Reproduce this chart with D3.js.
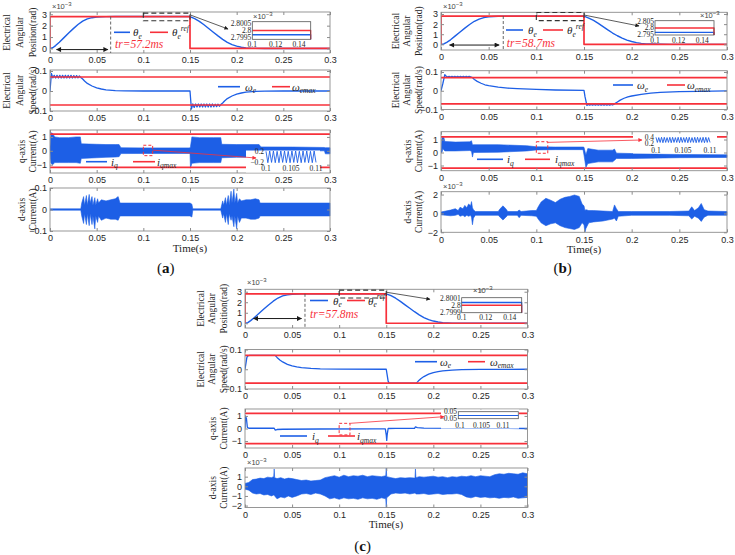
<!DOCTYPE html>
<html>
<head>
<meta charset="utf-8">
<script src="https://cdn.jsdelivr.net/npm/d3@7"></script>
<style>body { margin: 0; background: #fff; }</style>
</head>
<body>
<script>
// Tick values

const xTicks = [0, 0.05, 0.1, 0.15, 0.2, 0.25, 0.3];
const posTicks = [0, 1, 2, 3];
const speedTicks = [-0.1, 0, 0.1];
const iqTicks = [-1, 0, 1];
const idTicksA = [-0.1, 0, 0.1];
const idTicksB = [-2, 0, 2];
const idTicksC = [-2, -1, 0, 1];
const zoomPosTicksX = [0.1, 0.12, 0.14];
const zoomIqTicksX = [0.1, 0.105, 0.11];

// Reference and limits (position in 1e-3 rad)

const thetaRef = [[0, 0], [0, 2.8], [0.15, 2.8], [0.15, 0], [0.3, 0]];
const omegaMax = 0.07;
const iqMax = 1.2;
const riseTimes = ["57.2", "58.7", "57.8"];
const trMarks = [0.065, 0.0653, 0.0637];

// Electrical angular position [t, theta]

const posA = [[0,0],[0.003,0.06],[0.006,0.25],[0.01,0.55],[0.015,0.95],[0.02,1.35],[0.025,1.74],[0.03,2.1],[0.035,2.4],[0.04,2.6],[0.045,2.7],[0.05,2.76],[0.055,2.785],[0.06,2.795],[0.07,2.7997],[0.15,2.7997],[0.155,2.62],[0.16,2.38],[0.165,2.08],[0.17,1.75],[0.175,1.42],[0.18,1.1],[0.185,0.8],[0.19,0.54],[0.195,0.34],[0.2,0.2],[0.205,0.11],[0.21,0.05],[0.215,0.02],[0.22,0.01],[0.23,0],[0.3,0]];
const posB = [[0,0],[0.003,0.04],[0.006,0.2],[0.01,0.45],[0.015,0.84],[0.02,1.22],[0.025,1.6],[0.03,1.96],[0.035,2.28],[0.04,2.5],[0.045,2.64],[0.05,2.72],[0.055,2.76],[0.06,2.78],[0.07,2.7965],[0.15,2.7965],[0.155,2.6],[0.16,2.37],[0.165,2.08],[0.17,1.76],[0.175,1.43],[0.18,1.12],[0.185,0.85],[0.19,0.62],[0.195,0.42],[0.2,0.28],[0.205,0.17],[0.21,0.1],[0.215,0.05],[0.22,0.03],[0.23,0.01],[0.24,0],[0.3,0]];
const posC = [[0,0],[0.003,0.06],[0.006,0.25],[0.01,0.55],[0.015,0.95],[0.02,1.35],[0.025,1.74],[0.03,2.1],[0.035,2.4],[0.04,2.6],[0.045,2.7],[0.05,2.76],[0.055,2.785],[0.06,2.795],[0.07,2.80004],[0.15,2.80004],[0.155,2.62],[0.16,2.38],[0.165,2.08],[0.17,1.75],[0.175,1.43],[0.18,1.1],[0.185,0.8],[0.19,0.54],[0.195,0.34],[0.2,0.21],[0.205,0.12],[0.21,0.06],[0.215,0.03],[0.22,0.01],[0.23,0],[0.3,0]];

// Electrical angular speed [t, omega]

const speedA = [[0,0],[0.0015,0.088],[0.003,0.066],[0.0045,0.078],[0.006,0.065],[0.0075,0.078],[0.009,0.065],[0.0105,0.078],[0.012,0.065],[0.0135,0.078],[0.015,0.065],[0.0165,0.078],[0.018,0.065],[0.0195,0.078],[0.021,0.065],[0.0225,0.078],[0.024,0.065],[0.0255,0.077],[0.027,0.066],[0.0285,0.077],[0.03,0.066],[0.0315,0.075],[0.033,0.068],[0.035,0.06],[0.037,0.05],[0.04,0.038],[0.045,0.025],[0.05,0.016],[0.055,0.01],[0.06,0.006],[0.07,0.002],[0.08,0.0005],[0.1,0],[0.15,0],[0.1515,-0.09],[0.153,-0.065],[0.1545,-0.082],[0.156,-0.065],[0.1575,-0.08],[0.159,-0.065],[0.1605,-0.08],[0.162,-0.065],[0.1635,-0.08],[0.165,-0.065],[0.1665,-0.08],[0.168,-0.065],[0.1695,-0.08],[0.171,-0.065],[0.1725,-0.08],[0.174,-0.065],[0.1755,-0.079],[0.177,-0.066],[0.1785,-0.078],[0.18,-0.066],[0.1815,-0.076],[0.183,-0.068],[0.185,-0.06],[0.187,-0.05],[0.19,-0.038],[0.195,-0.025],[0.2,-0.016],[0.205,-0.01],[0.21,-0.006],[0.22,-0.002],[0.23,-0.0005],[0.25,0],[0.3,0]];
const speedB = [[0,0],[0.002,0.04],[0.004,0.086],[0.0055,0.077],[0.007,0.073],[0.0085,0.077],[0.01,0.073],[0.0115,0.077],[0.013,0.073],[0.0145,0.077],[0.016,0.073],[0.0175,0.077],[0.019,0.073],[0.0205,0.077],[0.022,0.073],[0.0235,0.077],[0.025,0.073],[0.0265,0.077],[0.028,0.073],[0.0295,0.077],[0.031,0.074],[0.033,0.07],[0.035,0.06],[0.038,0.05],[0.042,0.04],[0.046,0.032],[0.05,0.027],[0.06,0.019],[0.07,0.014],[0.08,0.011],[0.1,0.007],[0.12,0.004],[0.15,0.002],[0.151,-0.03],[0.153,-0.078],[0.1545,-0.073],[0.156,-0.077],[0.1575,-0.073],[0.159,-0.077],[0.1605,-0.073],[0.162,-0.077],[0.1635,-0.073],[0.165,-0.077],[0.1665,-0.073],[0.168,-0.077],[0.1695,-0.073],[0.171,-0.077],[0.1725,-0.073],[0.174,-0.077],[0.1755,-0.073],[0.177,-0.077],[0.1785,-0.073],[0.18,-0.076],[0.182,-0.07],[0.185,-0.06],[0.188,-0.05],[0.192,-0.04],[0.196,-0.033],[0.2,-0.028],[0.21,-0.019],[0.22,-0.013],[0.23,-0.009],[0.25,-0.005],[0.27,-0.003],[0.3,-0.001]];
const speedC = [[0,0],[0.001,0.03],[0.002,0.06],[0.003,0.068],[0.005,0.07],[0.032,0.07],[0.034,0.06],[0.037,0.047],[0.04,0.037],[0.045,0.025],[0.05,0.017],[0.055,0.012],[0.06,0.008],[0.07,0.004],[0.08,0.002],[0.1,0.001],[0.15,0],[0.151,-0.03],[0.152,-0.06],[0.153,-0.07],[0.182,-0.07],[0.184,-0.06],[0.187,-0.047],[0.19,-0.037],[0.195,-0.025],[0.2,-0.017],[0.205,-0.012],[0.21,-0.008],[0.22,-0.004],[0.23,-0.002],[0.25,-0.001],[0.3,0]];

// q-axis current: envelope [t, low, high] for the switching bands, a line for (c)

const iqA = [[0,-0.1,0.3],[0.001,-0.9,1.3],[0.003,-1.0,1.25],[0.005,-0.85,1.0],[0.01,-0.85,0.95],[0.02,-0.85,0.95],[0.028,-0.85,1.0],[0.0325,-0.9,1.0],[0.0335,-0.55,0.5],[0.05,-0.5,0.47],[0.06,-0.47,0.45],[0.07,-0.45,0.45],[0.074,-0.42,0.45],[0.076,-0.2,0.22],[0.1,-0.19,0.21],[0.15,-0.19,0.21],[0.1505,-1.25,0.3],[0.152,-0.9,1.0],[0.16,-0.85,0.95],[0.175,-0.85,0.95],[0.183,-0.85,0.95],[0.184,-0.5,0.47],[0.2,-0.47,0.45],[0.224,-0.45,0.45],[0.226,-0.03,0.28],[0.26,-0.02,0.27],[0.294,0,0.24],[0.295,-0.22,0.22],[0.3,-0.22,0.22]];
const iqB = [[0,0,0.1],[0.001,0,1.1],[0.002,0.3,1.2],[0.003,0.2,1.15],[0.004,0.12,0.85],[0.015,0.12,0.8],[0.03,0.15,0.82],[0.032,0.1,0.9],[0.033,-0.35,0.6],[0.034,0,0.6],[0.06,0.02,0.6],[0.09,0.12,0.52],[0.1,0.2,0.44],[0.12,0.22,0.42],[0.149,0.22,0.42],[0.15,-0.2,0.4],[0.152,-1.15,-0.2],[0.154,-0.85,0.3],[0.165,-0.72,0.18],[0.18,-0.72,0.18],[0.182,-0.6,0.26],[0.184,-0.46,-0.05],[0.2,-0.46,-0.08],[0.25,-0.4,-0.15],[0.3,-0.38,-0.18]];
const iqC = [[0,0],[0.0005,1.0],[0.0015,0.8],[0.0025,0.1],[0.004,0.02],[0.031,0.02],[0.032,-0.12],[0.034,-0.08],[0.04,-0.06],[0.08,-0.04],[0.14,-0.03],[0.149,-0.03],[0.15,-0.5],[0.1505,-0.95],[0.151,-0.5],[0.152,0],[0.16,0.01],[0.18,0.01],[0.181,0.12],[0.183,0.07],[0.19,0.03],[0.25,0.01],[0.3,0]];

// zoomed q-axis current between 0.1 s and 0.11 s

const iqZoomA = [0.19,-0.2,0.2,-0.19,0.2,-0.2,0.19,-0.2,0.2,-0.19,0.2,-0.2,0.19,-0.2,0.2,-0.19,0.2,-0.2,0.19,-0.2,0.2,-0.19,0.2,-0.2,0.19,-0.2,0.2,-0.19];
const iqZoomB = [0.4,0.22,0.39,0.22,0.4,0.21,0.4,0.22,0.39,0.22,0.4,0.21,0.4,0.22,0.39,0.22,0.4,0.21,0.4,0.22,0.39,0.22,0.4,0.21,0.4,0.22,0.39,0.22,0.4,0.21,0.4,0.22,0.39,0.22,0.4,0.21,0.4,0.22,0.39,0.22];
const iqZoomC = [-0.004, -0.004];

// d-axis current envelope [t, low, high]

const idA = [[0,-0.003,0.003],[0.033,-0.003,0.003],[0.034,-0.03,0.03],[0.036,-0.065,0.06],[0.037,-0.02,0.02],[0.039,-0.07,0.065],[0.04,-0.02,0.02],[0.042,-0.075,0.07],[0.043,-0.02,0.03],[0.045,-0.07,0.06],[0.046,-0.03,0.02],[0.048,-0.09,0.055],[0.049,-0.03,0.02],[0.051,-0.06,0.05],[0.052,-0.03,0.03],[0.055,-0.05,0.045],[0.06,-0.04,0.04],[0.065,-0.045,0.045],[0.07,-0.045,0.05],[0.073,-0.05,0.06],[0.075,-0.03,0.03],[0.1,-0.03,0.03],[0.15,-0.03,0.03],[0.152,-0.035,0.025],[0.153,-0.003,0.003],[0.183,-0.003,0.003],[0.185,-0.04,0.04],[0.186,-0.02,0.02],[0.188,-0.06,0.055],[0.189,-0.02,0.02],[0.191,-0.07,0.065],[0.192,-0.02,0.02],[0.194,-0.05,0.085],[0.195,-0.03,0.03],[0.197,-0.08,0.095],[0.198,-0.03,0.03],[0.2,-0.09,0.075],[0.201,-0.03,0.03],[0.203,-0.06,0.05],[0.205,-0.04,0.04],[0.21,-0.04,0.045],[0.215,-0.045,0.045],[0.22,-0.045,0.05],[0.224,-0.04,0.045],[0.225,-0.03,0.03],[0.3,-0.03,0.03]];
const idB = [[0,-0.15,0.15],[0.005,-0.2,0.25],[0.01,-0.25,0.35],[0.015,-0.2,0.5],[0.018,-0.1,0.3],[0.02,-0.3,0.65],[0.023,-0.2,0.5],[0.025,-0.35,0.85],[0.027,-0.2,0.6],[0.029,-0.3,1.0],[0.031,-0.2,0.8],[0.032,-0.4,1.25],[0.033,-1.2,0.6],[0.034,-0.5,0.4],[0.036,-0.2,0.2],[0.06,-0.2,0.2],[0.062,-0.4,0.5],[0.065,-0.7,0.8],[0.068,-0.4,0.5],[0.07,-0.2,0.2],[0.08,-0.2,0.2],[0.082,-0.45,0.35],[0.084,-0.2,0.2],[0.095,-0.25,0.3],[0.1,-0.3,0.3],[0.102,-0.6,0.7],[0.105,-1.0,1.2],[0.11,-1.3,1.6],[0.115,-1.1,1.4],[0.12,-1.0,1.15],[0.125,-1.3,1.5],[0.13,-1.5,1.7],[0.135,-1.6,1.8],[0.14,-1.7,1.95],[0.145,-1.5,1.8],[0.148,-1.0,1.0],[0.15,-1.2,0.8],[0.151,-2.0,0.3],[0.152,-1.6,0.4],[0.155,-1.0,0.3],[0.16,-0.9,0.3],[0.17,-0.8,0.25],[0.18,-0.6,0.2],[0.182,-0.5,0.9],[0.184,-0.8,0.5],[0.186,-0.3,0.2],[0.2,-0.2,0.2],[0.24,-0.2,0.2],[0.26,-0.25,0.25],[0.263,-0.6,0.7],[0.266,-0.3,0.3],[0.27,-0.5,0.6],[0.273,-0.85,1.05],[0.276,-0.4,0.4],[0.28,-0.2,0.25],[0.3,-0.2,0.2]];
const idC = [[0,-0.3,0.3],[0.004,-0.4,0.4],[0.008,-0.7,0.7],[0.012,-0.8,0.75],[0.016,-0.75,0.85],[0.02,-0.9,0.8],[0.024,-0.85,0.95],[0.028,-1.0,0.9],[0.0305,-0.9,1.0],[0.031,-0.9,1.8],[0.0315,-1.0,0.9],[0.034,-1.3,0.8],[0.038,-1.1,0.9],[0.042,-1.2,0.75],[0.046,-1.0,0.85],[0.05,-1.15,0.8],[0.055,-1.0,0.7],[0.06,-0.8,0.6],[0.065,-0.75,0.65],[0.07,-0.85,0.55],[0.075,-0.7,0.6],[0.08,-0.8,0.65],[0.085,-1.0,0.9],[0.09,-1.3,1.0],[0.095,-1.2,1.1],[0.1,-1.35,0.95],[0.105,-1.2,1.15],[0.11,-1.3,1.0],[0.115,-1.25,1.1],[0.12,-1.35,1.05],[0.125,-1.2,1.15],[0.13,-1.3,1.0],[0.135,-1.25,1.1],[0.14,-1.35,1.05],[0.145,-1.2,1.0],[0.1495,-1.3,1.1],[0.15,-2.3,2.0],[0.1505,-1.2,1.0],[0.155,-0.8,0.9],[0.16,-0.7,0.8],[0.165,-0.75,0.9],[0.17,-0.7,0.85],[0.175,-0.8,0.9],[0.1805,-0.7,0.85],[0.181,-0.7,1.8],[0.1815,-0.8,0.9],[0.185,-0.8,1.0],[0.19,-0.75,0.95],[0.195,-0.85,1.0],[0.2,-0.8,1.05],[0.205,-0.75,0.95],[0.21,-0.85,1.0],[0.215,-0.8,0.9],[0.22,-0.8,1.0],[0.225,-0.75,0.95],[0.23,-0.85,1.05],[0.235,-1.1,1.0],[0.24,-1.2,1.1],[0.245,-1.05,1.0],[0.25,-1.15,1.1],[0.255,-1.1,1.05],[0.26,-1.2,1.0],[0.265,-1.15,1.2],[0.27,-1.25,1.3],[0.275,-1.15,1.25],[0.28,-1.2,1.35],[0.285,-1.1,1.3],[0.29,-1.25,1.25],[0.295,-1.2,1.4],[0.3,-1.15,1.3]];

// Styles

const blue = "#1d5fe6", red = "#f7303a", gray = "#8c8c8c", ink = "#262626";
const serif = "'Liberation Serif', 'Times New Roman', serif";
const sans = "'Liberation Sans', Arial, sans-serif";

// Drawing area

const svg = d3.select("body").append("svg")
    .attr("width", 735)
    .attr("height", 555)
    .style("background", "#fff");

const defs = svg.append("defs");
[["arrK", "#1a1a1a"], ["arrR", red]].forEach(([id, c]) => {
    defs.append("marker").attr("id", id).attr("viewBox", "0 0 10 10")
        .attr("refX", 9).attr("refY", 5).attr("markerWidth", 6).attr("markerHeight", 5)
        .attr("orient", "auto-start-reverse")
        .append("path").attr("d", "M0,0L10,5L0,10Z").attr("fill", c);
});

let nClip = 0;
function clipRect(x, y, w, h) {
    const id = "clip" + nClip++;
    defs.append("clipPath").attr("id", id).append("rect")
        .attr("x", x).attr("y", y).attr("width", w).attr("height", h);
    return `url(#${id})`;
}

function axes(L, r, yTicks) {
    const x = d3.scaleLinear().domain([0, 0.3]).range([L.x0, L.x1]);
    const y = d3.scaleLinear().domain(r.dom).range([r.y1, r.y0]);
    const g = svg.append("g");
    const plot = g.append("g").attr("clip-path", clipRect(L.x0, r.y0, L.x1 - L.x0 + 1, r.y1 - r.y0));
    return { x, y, g, plot, L, r, yTicks };
}

function styleAxis(sel) {
    sel.select(".domain").remove();
    sel.selectAll(".tick line").attr("stroke", gray);
    sel.selectAll("text").attr("fill", ink)
        .style("font-family", sans).style("font-size", "9px");
}

function frame(ax) {
    const { x, y, g, L, r, yTicks } = ax;
    const fmt = d3.format("~g");
    g.append("g").attr("transform", `translate(0,${r.y1})`)
        .call(d3.axisBottom(x).tickValues(xTicks).tickFormat(fmt).tickSizeInner(-3).tickSizeOuter(0).tickPadding(4))
        .call(styleAxis);
    g.append("g").attr("transform", `translate(0,${r.y0})`)
        .call(d3.axisTop(x).tickValues(xTicks).tickFormat(() => "").tickSizeInner(-3).tickSizeOuter(0))
        .call(styleAxis);
    g.append("g").attr("transform", `translate(${L.x0},0)`)
        .call(d3.axisLeft(y).tickValues(yTicks).tickFormat(fmt).tickSizeInner(-3).tickSizeOuter(0).tickPadding(3))
        .call(styleAxis);
    g.append("g").attr("transform", `translate(${L.x1},0)`)
        .call(d3.axisRight(y).tickValues(yTicks).tickFormat(() => "").tickSizeInner(-3).tickSizeOuter(0))
        .call(styleAxis);
    g.append("rect").attr("x", L.x0).attr("y", r.y0)
        .attr("width", L.x1 - L.x0).attr("height", r.y1 - r.y0)
        .attr("fill", "none").attr("stroke", gray).attr("stroke-width", 0.9);
}

const lineOf = (x, y) => d3.line().x(d => x(d[0])).y(d => y(d[1]));

function curve(parent, x, y, data, color, w) {
    parent.append("path").datum(data)
        .attr("fill", "none").attr("stroke", color).attr("stroke-width", w)
        .attr("stroke-linejoin", "round")
        .attr("d", lineOf(x, y));
}

function band(ax, data) {
    ax.plot.append("path").datum(data)
        .attr("fill", blue).attr("stroke", blue).attr("stroke-width", 0.6)
        .attr("d", d3.area().x(d => ax.x(d[0])).y0(d => ax.y(d[1])).y1(d => ax.y(d[2])));
}

function ylabel(ax, lines, offs) {
    const cy = (ax.r.y0 + ax.r.y1) / 2;
    lines.forEach((s, i) => {
        svg.append("text")
            .attr("transform", `translate(${ax.L.x0 + offs[i]},${cy}) rotate(-90)`)
            .attr("text-anchor", "middle").attr("dominant-baseline", "central")
            .style("font-family", serif).style("font-size", "9.5px")
            .attr("fill", ink).text(s);
    });
}

function symText(x, y, base, sub, sup) {
    const fs = 11;
    const t = svg.append("text").attr("x", x).attr("y", y + 4)
        .style("font-family", serif).style("font-size", fs + "px").attr("fill", ink);
    t.append("tspan").style("font-style", "italic").text(base);
    if (sub) t.append("tspan").attr("dy", 2.5).style("font-size", "7.5px").style("font-style", "italic").text(sub);
    if (sup) t.append("tspan").attr("dy", -8).style("font-size", "7.5px").style("font-style", "italic").text(sup);
    return t;
}

function legend(leg, names) {
    svg.append("line").attr("x1", leg.b[0]).attr("x2", leg.b[1]).attr("y1", leg.y).attr("y2", leg.y)
        .attr("stroke", blue).attr("stroke-width", 1.6);
    symText(leg.tb, leg.y, ...names[0]);
    svg.append("line").attr("x1", leg.r[0]).attr("x2", leg.r[1]).attr("y1", leg.y).attr("y2", leg.y)
        .attr("stroke", red).attr("stroke-width", 1.6);
    symText(leg.tr, leg.y, ...names[1]);
}

function exp10(p) {
    const t = svg.append("text").attr("x", p[0]).attr("y", p[1])
        .style("font-family", sans).style("font-size", "7.5px").attr("fill", "#444");
    t.append("tspan").text("×10");
    t.append("tspan").attr("dy", -3).style("font-size", "6px").text("−3");
}

function smallLabel(x, y, s, anchor) {
    svg.append("text").attr("x", x).attr("y", y).attr("text-anchor", anchor)
        .attr("dominant-baseline", "central")
        .style("font-family", serif).style("font-size", "7.5px").attr("fill", ink).text(s);
}

function posInset(b, pos) {
    const x = d3.scaleLinear().domain([0.1, 0.15]).range([b.x0, b.x1]);
    const y = d3.scaleLinear().domain(b.dom).range([b.y1, b.y0]);
    svg.append("rect").attr("x", b.x0).attr("y", b.y0).attr("width", b.x1 - b.x0).attr("height", b.y1 - b.y0)
        .attr("fill", "#fff");
    const g = svg.append("g").attr("clip-path", clipRect(b.x0, b.y0, b.x1 - b.x0 + 1, b.y1 - b.y0));
    curve(g, x, y, pos, blue, 1.4);
    curve(g, x, y, thetaRef, red, 1.4);
    svg.append("rect").attr("x", b.x0).attr("y", b.y0).attr("width", b.x1 - b.x0).attr("height", b.y1 - b.y0)
        .attr("fill", "none").attr("stroke", "#555").attr("stroke-width", 0.8);
    b.ticks.forEach(v => smallLabel(b.x0 - 1, y(v), d3.format("~g")(v), "end"));
    zoomPosTicksX.forEach(v => smallLabel(x(v), b.y1 + 5, d3.format("~g")(v), "middle"));
    exp10(b.exp);
}

function iqInset(b, vals) {
    svg.append("rect").attr("x", b.bg[0]).attr("y", b.bg[1]).attr("width", b.bg[2]).attr("height", b.bg[3])
        .attr("fill", "#fff");
    const x = d3.scaleLinear().domain([0.1, 0.11]).range([b.x0, b.x1]);
    const y = d3.scaleLinear().domain(b.dom).range([b.y1, b.y0]);
    const data = vals.map((v, i) => [0.1 + i * 0.01 / (vals.length - 1), v]);
    if (b.border) {
        svg.append("rect").attr("x", b.bx[0]).attr("y", b.y0).attr("width", b.bx[1] - b.bx[0]).attr("height", b.y1 - b.y0)
            .attr("fill", "none").attr("stroke", "#555").attr("stroke-width", 0.8);
        svg.append("line").attr("x1", b.bx[0]).attr("x2", b.bx[1]).attr("y1", y(vals[0])).attr("y2", y(vals[0]))
            .attr("stroke", blue).attr("stroke-width", 1.2);
    } else {
        curve(svg, x, y, data, blue, 0.9);
    }
    b.ticks.forEach(v => smallLabel(b.lx, y(v), d3.format("~g")(v), "end"));
    zoomIqTicksX.forEach(v => smallLabel(x(v), b.ty, d3.format("~g")(v), "middle"));
}

function drawPanel(L, D, A, k) {
    // position
    const a1 = axes(L, L.rows[0], posTicks);
    curve(a1.plot, a1.x, a1.y, D.pos, blue, 1.4);
    curve(a1.plot, a1.x, a1.y, thetaRef, red, 1.7);
    frame(a1);
    svg.append("line").attr("x1", a1.x(trMarks[k])).attr("x2", a1.x(trMarks[k]))
        .attr("y1", a1.y(2.8)).attr("y2", L.rows[0].y1)
        .attr("stroke", "#555").attr("stroke-width", 0.9).attr("stroke-dasharray", "3,2");
    svg.append("line").attr("x1", a1.x(A.trArrow[0])).attr("x2", a1.x(A.trArrow[1]))
        .attr("y1", a1.y(A.trArrow[2])).attr("y2", a1.y(A.trArrow[2]))
        .attr("stroke", "#1a1a1a").attr("stroke-width", 1)
        .attr("marker-start", "url(#arrK)").attr("marker-end", "url(#arrK)");
    svg.append("text").attr("x", A.trText[0]).attr("y", A.trText[1])
        .style("font-family", serif).style("font-size", "11.5px").style("font-style", "italic")
        .attr("fill", red).text("tr=" + riseTimes[k] + "ms");
    svg.append("rect").attr("x", a1.x(A.rect[0])).attr("y", a1.y(A.rect[3]))
        .attr("width", a1.x(A.rect[1]) - a1.x(A.rect[0])).attr("height", a1.y(A.rect[2]) - a1.y(A.rect[3]))
        .attr("fill", "none").attr("stroke", "#333").attr("stroke-width", 1.1).attr("stroke-dasharray", "5,3");
    svg.append("line").attr("x1", a1.x(A.zoomFrom[0])).attr("y1", a1.y(A.zoomFrom[1]))
        .attr("x2", A.zoomTo[0]).attr("y2", A.zoomTo[1])
        .attr("stroke", "#333").attr("stroke-width", 0.8).attr("marker-end", "url(#arrK)");
    legend(A.posLeg, [["θ", "e"], ["θ", "e", "ref"]]);
    posInset(A.posInset, D.pos);
    exp10(A.posExp);
    ylabel(a1, ["Electrical", "Angular", "Position(rad)"], L.lab3);

    // speed
    const a2 = axes(L, L.rows[1], speedTicks);
    curve(a2.plot, a2.x, a2.y, D.speed, blue, 1.3);
    curve(a2.plot, a2.x, a2.y, [[0, omegaMax], [0.3, omegaMax]], red, 1.7);
    curve(a2.plot, a2.x, a2.y, [[0, -omegaMax], [0.3, -omegaMax]], red, 1.7);
    frame(a2);
    legend(A.spdLeg, [["ω", "e"], ["ω", "emax"]]);
    ylabel(a2, ["Electrical", "Angular", "Speed(rad/s)"], L.lab3);

    // q-axis current
    const a3 = axes(L, L.rows[2], iqTicks);
    if (D.iqBand) band(a3, D.iq);
    else curve(a3.plot, a3.x, a3.y, D.iq, blue, 1.3);
    curve(a3.plot, a3.x, a3.y, [[0, iqMax], [0.3, iqMax]], red, 1.8);
    curve(a3.plot, a3.x, a3.y, [[0, -iqMax], [0.3, -iqMax]], red, 1.8);
    frame(a3);
    iqInset(A.iqInset, D.iqZoom);
    svg.append("rect").attr("x", a3.x(A.iqRect[0])).attr("y", a3.y(A.iqRect[3]))
        .attr("width", a3.x(A.iqRect[1]) - a3.x(A.iqRect[0])).attr("height", a3.y(A.iqRect[2]) - a3.y(A.iqRect[3]))
        .attr("fill", "none").attr("stroke", red).attr("stroke-width", 1).attr("stroke-dasharray", "3,2");
    svg.append("line").attr("x1", a3.x(A.iqFrom[0])).attr("y1", a3.y(A.iqFrom[1]))
        .attr("x2", A.iqTo[0]).attr("y2", A.iqTo[1])
        .attr("stroke", red).attr("stroke-width", 0.8).attr("marker-end", "url(#arrR)");
    legend(A.iqLeg, [["i", "q"], ["i", "qmax"]]);
    ylabel(a3, ["q-axis", "Current(A)"], L.lab2);

    // d-axis current
    const a4 = axes(L, L.rows[3], D.idTicks);
    band(a4, D.id);
    frame(a4);
    if (A.idExp) exp10(A.idExp);
    ylabel(a4, ["d-axis", "Current(A)"], L.lab2);

    svg.append("text").attr("x", A.time[0]).attr("y", A.time[1]).attr("text-anchor", "middle")
        .style("font-family", serif).style("font-size", "11px").attr("fill", ink).text("Time(s)");
    const tag = svg.append("text").attr("x", A.tag[0]).attr("y", A.tag[1]).attr("text-anchor", "middle")
        .style("font-family", serif).style("font-size", "15px").attr("fill", "#111");
    tag.append("tspan").text("(");
    tag.append("tspan").style("font-weight", "bold").text(A.tag[2]);
    tag.append("tspan").text(")");
}

// Layouts

const LA = { x0: 50, x1: 330, lab3: [-43, -30, -17], lab2: [-28, -17], rows: [
    { y0: 12, y1: 53, dom: [-0.4, 3.2] },
    { y0: 70, y1: 111, dom: [-0.1, 0.105] },
    { y0: 130, y1: 173, dom: [-1.6, 1.5] },
    { y0: 188, y1: 231, dom: [-0.1, 0.1] }] };
const LB = { x0: 441, x1: 727, lab3: [-45, -34, -22], lab2: [-33, -22], rows: [
    { y0: 12.3, y1: 50, dom: [-0.56, 3.17] },
    { y0: 70.7, y1: 109.5, dom: [-0.1, 0.107] },
    { y0: 131.7, y1: 170.7, dom: [-1.4, 1.6] },
    { y0: 191.7, y1: 232.3, dom: [-2, 2.3] }] };
const LC = { x0: 245, x1: 527.5, lab3: [-44, -33, -21], lab2: [-32, -21], rows: [
    { y0: 289.3, y1: 328, dom: [-0.45, 3.23] },
    { y0: 349.5, y1: 389, dom: [-0.1, 0.1] },
    { y0: 409, y1: 448, dom: [-1.55, 1.55] },
    { y0: 468, y1: 507.5, dom: [-2.2, 1.9] }] };

drawPanel(LA, { pos: posA, speed: speedA, iq: iqA, iqBand: true, iqZoom: iqZoomA, id: idA, idTicks: idTicksA }, {
    trArrow: [0.007, 0.062, -0.1], trText: [115, 48],
    rect: [0.1, 0.15, 2.43, 3.1], zoomFrom: [0.15, 2.95], zoomTo: [228, 29],
    posLeg: { y: 32.3, b: [114, 130], tb: 133, r: [150, 168], tr: 172 },
    posInset: { x0: 252.3, x1: 310.7, y0: 21.7, y1: 39.3, dom: [2.79938, 2.80062], ticks: [2.7995, 2.8, 2.8005], exp: [253, 19] },
    posExp: [52, 9],
    spdLeg: { y: 86.7, b: [218, 240], tb: 245, r: [272, 290], tr: 292 },
    iqLeg: { y: 161.7, b: [86, 107], tb: 111, r: [133, 155], tr: 157 },
    iqRect: [0.1, 0.11, -0.35, 0.4], iqFrom: [0.11, 0.05], iqTo: [256, 158],
    iqInset: { x0: 266, x1: 316, y0: 151, y1: 162.7, dom: [-0.2, 0.2], ticks: [-0.2, 0.2], lx: 264, ty: 168.5, bg: [246, 150.5, 74, 22] },
    idExp: null, time: [190, 252], tag: [165.7, 273, "a"]
}, 0);

drawPanel(LB, { pos: posB, speed: speedB, iq: iqB, iqBand: true, iqZoom: iqZoomB, id: idB, idTicks: idTicksB }, {
    trArrow: [0.009, 0.061, -0.07], trText: [506.7, 47],
    rect: [0.1, 0.15, 2.35, 3.15], zoomFrom: [0.15, 2.9], zoomTo: [639, 26],
    posLeg: { y: 30, b: [506, 523], tb: 528, r: [543, 563], tr: 567 },
    posInset: { x0: 655, x1: 714, y0: 20.7, y1: 35, dom: [2.7944, 2.8058], ticks: [2.795, 2.8, 2.805], exp: [700, 18] },
    posExp: [443, 9],
    spdLeg: { y: 85, b: [613, 633], tb: 637, r: [667, 685], tr: 687 },
    iqLeg: { y: 159.3, b: [477, 503], tb: 507, r: [525, 550], tr: 555 },
    iqRect: [0.1, 0.112, -0.06, 0.83], iqFrom: [0.112, 0.78], iqTo: [642, 140],
    iqInset: { x0: 656, x1: 710, y0: 137.3, y1: 143, dom: [0.2, 0.4], ticks: [0.2, 0.4], lx: 654, ty: 150, bg: [633, 133.5, 84, 20] },
    idExp: [443, 189], time: [584, 253], tag: [562.7, 273, "b"]
}, 1);

drawPanel(LC, { pos: posC, speed: speedC, iq: iqC, iqBand: false, iqZoom: iqZoomC, id: idC, idTicks: idTicksC }, {
    trArrow: [0.009, 0.06, 0.45], trText: [310, 318],
    rect: [0.1, 0.15, 2.4, 3.15], zoomFrom: [0.15, 2.95], zoomTo: [430, 299.3],
    posLeg: { y: 300.5, b: [310, 328], tb: 333, r: [347, 365], tr: 368 },
    posInset: { x0: 461.7, x1: 521.7, y0: 297.7, y1: 312.7, dom: [2.79989, 2.80011], ticks: [2.7999, 2.8, 2.8001], exp: [473, 293] },
    posExp: [247, 285],
    spdLeg: { y: 361.7, b: [415, 437], tb: 440, r: [468, 485], tr: 490 },
    iqLeg: { y: 436, b: [280, 307], tb: 312, r: [328, 355], tr: 357 },
    iqRect: [0.1, 0.1115, -0.51, 0.41], iqFrom: [0.1115, 0.41], iqTo: [444, 416.7],
    iqInset: { x0: 460, x1: 503, y0: 411.7, y1: 418.7, dom: [-0.05, 0.05], ticks: [-0.05, 0.05], lx: 457, ty: 425, bg: [441, 409.6, 78, 19], border: true, bx: [458.3, 518.3] },
    idExp: [247, 465], time: [386, 528], tag: [362.7, 551, "c"]
}, 2);
</script>
</body>
</html>
